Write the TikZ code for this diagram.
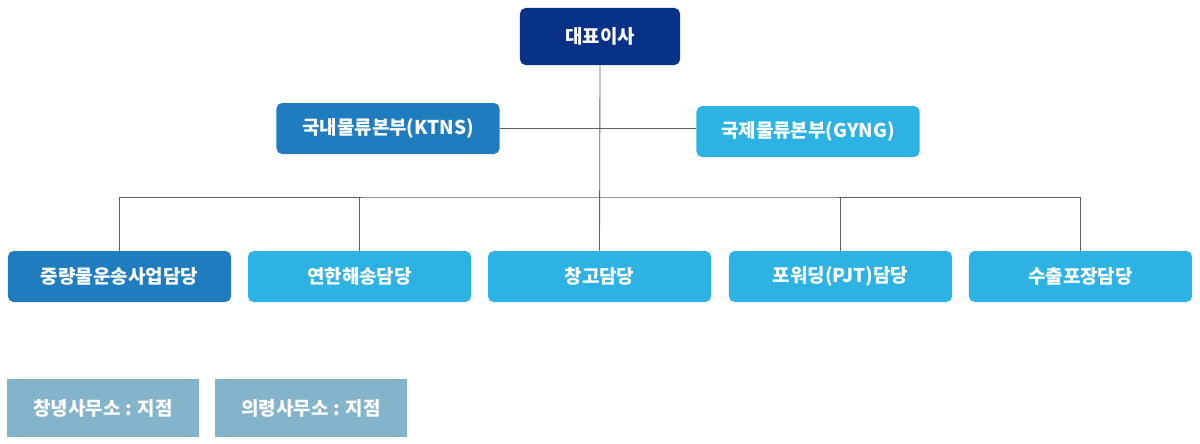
\documentclass[tikz,border=0pt]{standalone}
\usepackage{fontspec}
\setmainfont{Noto Sans CJK KR}
\usetikzlibrary{positioning,calc}
\definecolor{OrgNavy}{HTML}{083287}
\definecolor{OrgBlue}{HTML}{1F7DBF}
\definecolor{OrgSky}{HTML}{2DB3E3}
\definecolor{OrgGrey}{HTML}{84B3CC}
\definecolor{OrgLine}{HTML}{606060}

\begin{document}
\begin{tikzpicture}[x=0.025cm,y=-0.025cm,font=\fontsize{13.5}{16}\selectfont\bfseries,
  box/.style={rounded corners=4pt,text=white,minimum height=1.275cm,inner sep=0pt},
  unit/.style={box,minimum width=5.575cm,minimum height=1.275cm},
  branch/.style={text=white,minimum width=4.8cm,minimum height=1.45cm,inner sep=0pt},
  link/.style={OrgLine,line width=0.6pt}]
  \useasboundingbox (0,0) rectangle (1200,443);
  % --- direction ---
  \node[box,fill=OrgNavy,minimum width=4cm,minimum height=1.425cm] (ceo) at (600,36.5){대표이사};
  % --- les deux sieges ---
  \node[unit,fill=OrgBlue] (ktns) at (388,128.5){국내물류본부(KTNS)};
  \node[unit,fill=OrgSky] (gyng) at (808,131.5){국제물류본부(GYNG)};
  % --- equipes ---
  \node[unit,fill=OrgBlue] (heavy) at (119.5,276.5){중량물운송사업담당};
  \node[unit,fill=OrgSky] (coast) at (359.5,276.5){연한해송담당};
  \node[unit,fill=OrgSky] (store) at (599.5,276.5){창고담당};
  \node[unit,fill=OrgSky] (fwd) at (840.5,276.5){포워딩(PJT)담당};
  \node[unit,fill=OrgSky] (pack) at (1080.5,276.5){수출포장담당};
  % --- agences ---
  \node[branch,fill=OrgGrey] (cn) at (103,408){창녕사무소 : 지점};
  \node[branch,fill=OrgGrey] (ur) at (311,408){의령사무소 : 지점};
  % --- liaisons ---
  \coordinate (bus) at (600,197);
  \draw[link] (ceo.south) -- (store.north);
  \draw[link] (ktns.east) -- (ktns.east -| gyng.west);
  \draw[link] (heavy.north) |- (bus) -| (pack.north);
  \draw[link] (coast.north) -- (coast.north |- bus);
  \draw[link] (fwd.north) -- (fwd.north |- bus);
\end{tikzpicture}
\end{document}
